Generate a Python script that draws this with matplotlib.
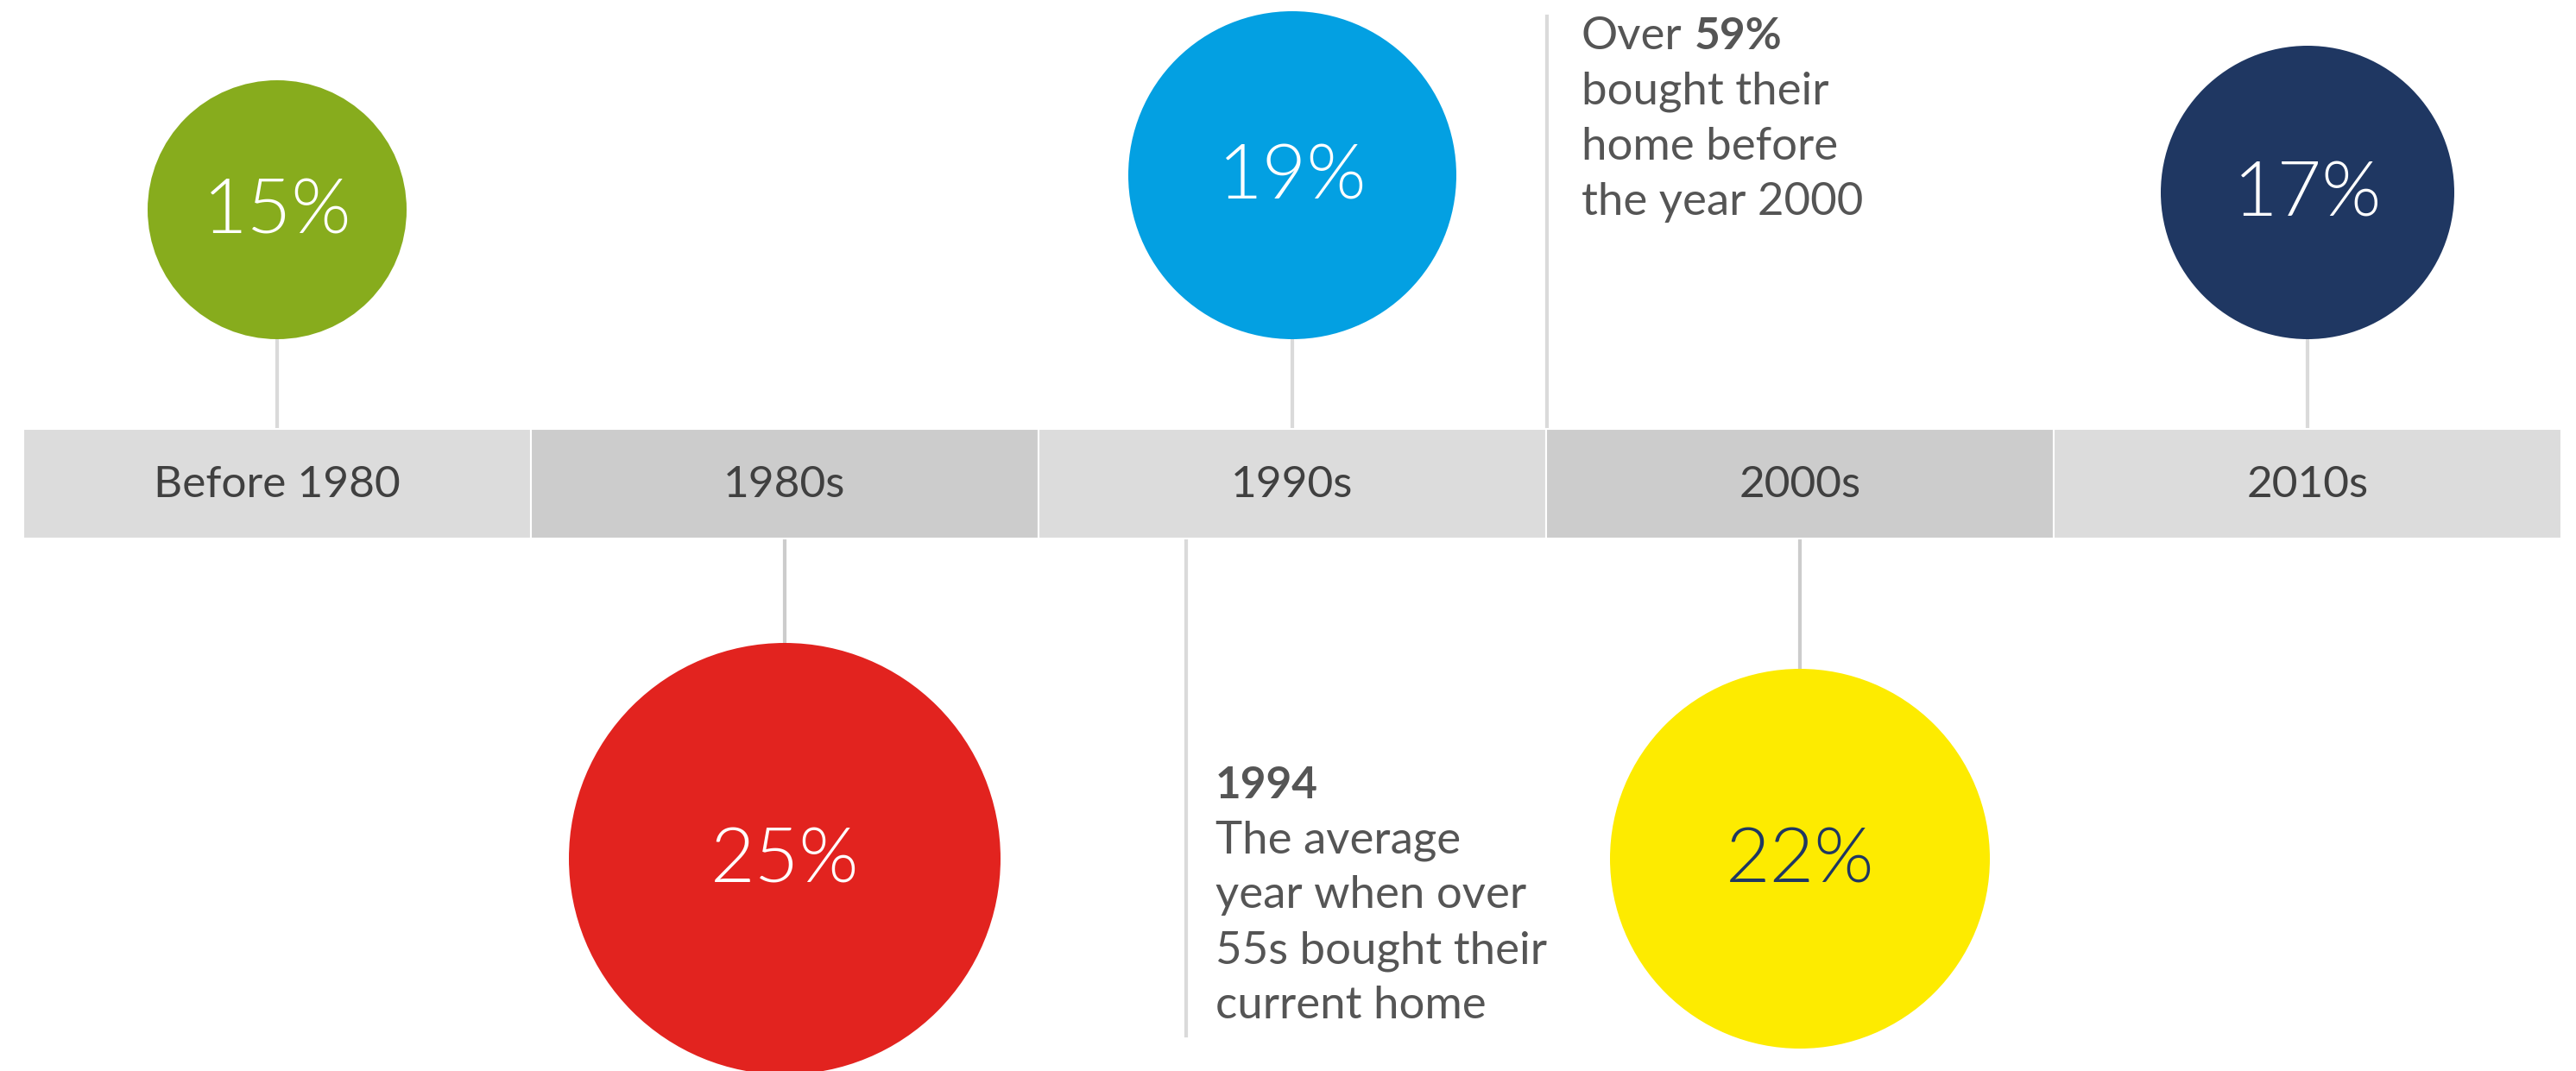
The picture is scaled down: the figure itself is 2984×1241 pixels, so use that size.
import matplotlib
matplotlib.use("Agg")
import matplotlib.pyplot as plt
from matplotlib.patches import Circle

# ---- data ----
periods = ["Before 1980", "1980s", "1990s", "2000s", "2010s"]
shares = [15, 25, 19, 22, 17]
bubble_colors = ["#87AC1D", "#E2231F", "#03A0E2", "#FDEB00", "#1F3762"]
label_colors = ["white", "white", "white", "#1F3762", "white"]
band_colors = ["#DCDCDC", "#CCCCCC", "#DCDCDC", "#CCCCCC", "#DCDCDC"]
note_top_lines = [("Over", "59%"), ("bought their", None), ("home before", None), ("the year 2000", None)]
note_bottom_title = "1994"
note_bottom_lines = ["The average", "year when over", "55s bought their", "current home"]

W, H = 2984, 1241
plt.rcParams['font.family'] = ['Lato', 'DejaVu Sans']

fig = plt.figure(figsize=(W / 100, H / 100), dpi=100)
ax = fig.add_axes([0, 0, 1, 1])
ax.set_xlim(0, W)
ax.set_ylim(H, 0)
ax.set_aspect('equal')
ax.axis('off')

left = 27
seg_w = 588
band_top, band_bot = 497, 624
top_base = 393      # bottom edge of upper bubbles
low_center = 995    # centre of lower bubbles
scale = 10          # radius per percentage point

centers = [left + (i + 0.5) * seg_w for i in range(len(periods))]

# band
ax.bar(centers, band_bot - band_top, width=seg_w, bottom=band_top,
       color=band_colors, edgecolor='white', linewidth=1.5, zorder=2)
for c, lab in zip(centers, periods):
    ax.text(c, (band_top + band_bot) / 2 + 2, lab, ha='center', va='center',
            fontsize=37, color='#404040', zorder=3)

# bubbles
for i, (c, v, col, lc) in enumerate(zip(centers, shares, bubble_colors, label_colors)):
    r = v * scale
    if i % 2 == 0:
        cy = top_base - r
        ax.plot([c, c], [top_base, band_top], color='#DADADA', lw=3, zorder=1)
    else:
        cy = low_center
        ax.plot([c, c], [band_bot, cy - r], color='#CCCCCC', lw=3, zorder=1)
    ax.add_patch(Circle((c, cy), r, facecolor=col, edgecolor='none', zorder=4))
    ax.text(c, cy + 3, f"{v}%", ha='center', va='center', fontsize=64,
            color=lc, fontweight=300, zorder=5)

# annotation lines
ax.plot([1792, 1792], [19, band_top], color='#DADADA', lw=3, zorder=1)
ax.plot([1374, 1374], [band_bot, 1200], color='#DADADA', lw=3, zorder=1)

txt_col = '#555555'
fs = 38
fig.canvas.draw()
renderer = fig.canvas.get_renderer()
y0 = 57
for k, (a, b) in enumerate(note_top_lines):
    y = y0 + k * 64
    t = ax.text(1832, y, a, ha='left', va='baseline', fontsize=fs, color=txt_col)
    if b:
        bb = t.get_window_extent(renderer)
        xd = ax.transData.inverted().transform((bb.x1, bb.y0))[0] + 14
        ax.text(xd, y, b, ha='left', va='baseline', fontsize=fs - 1,
                color=txt_col, fontweight='bold')

ax.text(1408, 925, note_bottom_title, ha='left', va='baseline', fontsize=fs - 1,
        color=txt_col, fontweight='bold')
for k, line in enumerate(note_bottom_lines):
    ax.text(1408, 988 + k * 64, line, ha='left', va='baseline', fontsize=fs,
            color=txt_col)

fig.savefig("out.png", dpi=100, facecolor='white')
